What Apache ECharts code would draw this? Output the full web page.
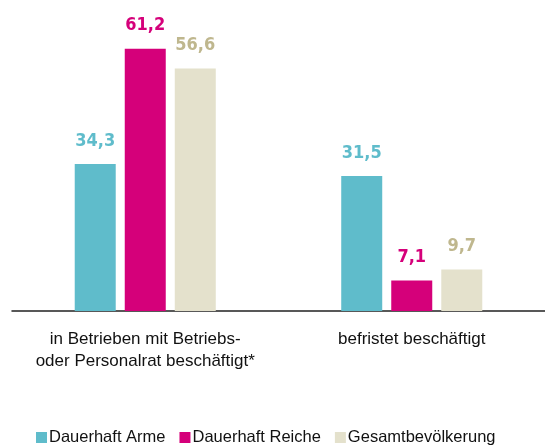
<!DOCTYPE html>
<html>
<head>
<meta charset="utf-8">
<script src="https://cdn.jsdelivr.net/npm/echarts@6/dist/echarts.min.js"></script>
<style>
  html, body { margin: 0; padding: 0; background: #fff; }
  #chart { width: 545px; height: 446px; }
</style>
</head>
<body>
<div id="chart"></div>
<script>
// Chart data
const categories = ['in Betrieben mit Betriebs-\noder Personalrat beschäftigt*', 'befristet beschäftigt'];
const seriesNames = ['Dauerhaft Arme', 'Dauerhaft Reiche', 'Gesamtbevölkerung'];
const armeValues = [34.3, 31.5];
const reicheValues = [61.2, 7.1];
const gesamtValues = [56.6, 9.7];

const barColors = ['#5fbccb', '#d5007a', '#e4e1cc'];
const labelColors = ['#5fbccb', '#d5007a', '#bfb78e'];
const font = '"Liberation Sans Narrow", "Arial Narrow", "Liberation Sans", sans-serif';
const labelFont = '"DejaVu Sans Condensed", "Liberation Sans Narrow", sans-serif';

function makeSeries(name, data, i) {
  return {
    name: name,
    type: 'bar',
    data: data,
    barWidth: 41,
    barGap: '22%',
    itemStyle: { color: barColors[i] },
    label: {
      show: true,
      position: 'top',
      distance: 14,
      color: labelColors[i],
      fontFamily: labelFont,
      fontWeight: 'bold',
      fontSize: 18,
      formatter: (p) => p.value.toFixed(1).replace('.', ',')
    }
  };
}

const chart = echarts.init(document.getElementById('chart'));
chart.setOption({
  animation: false,
  grid: { left: 12, right: 0, top: 11, bottom: 135 },
  legend: {
    bottom: -5,
    left: 31,
    itemWidth: 11,
    itemHeight: 11,
    itemGap: 14,
    icon: 'rect',
    textStyle: { fontFamily: font, fontSize: 16.5, color: '#111', padding: [0, 0, 0, -3] },
    data: seriesNames
  },
  xAxis: {
    type: 'category',
    data: categories,
    axisLine: { lineStyle: { color: '#222', width: 1.5 } },
    axisTick: { show: false },
    axisLabel: {
      fontFamily: font,
      fontSize: 17,
      color: '#111',
      lineHeight: 22,
      margin: 17,
      interval: 0
    }
  },
  yAxis: {
    type: 'value',
    min: 0,
    max: 70,
    show: false
  },
  series: [
    makeSeries(seriesNames[0], armeValues, 0),
    makeSeries(seriesNames[1], reicheValues, 1),
    makeSeries(seriesNames[2], gesamtValues, 2)
  ]
});
</script>
</body>
</html>
